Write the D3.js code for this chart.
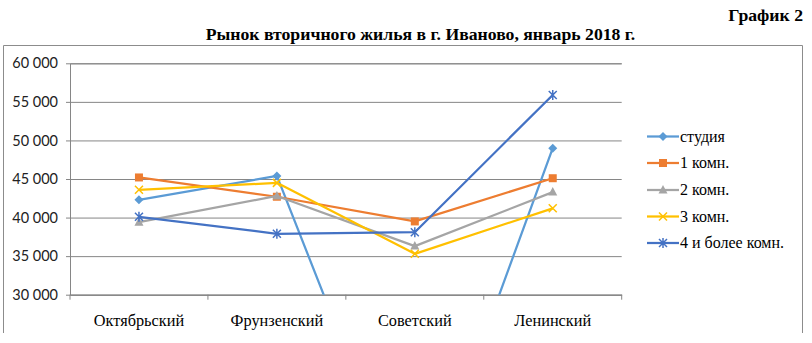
<!DOCTYPE html>
<html><head><meta charset="utf-8">
<script src="https://cdn.jsdelivr.net/npm/d3@7"></script>
<style>body{margin:0;background:#fff}svg{display:block}</style>
</head><body>
<svg id="c" width="812" height="343"></svg>
<script>
const categories = ["Октябрьский", "Фрунзенский", "Советский", "Ленинский"];
const seriesNames = ["студия", "1 комн.", "2 комн.", "3 комн.", "4 и более комн."];
const studio = [42300, 45400, 0, 49000];
const room1 = [45200, 42700, 39500, 45100];
const room2 = [39400, 42800, 36300, 43300];
const room3 = [43600, 44500, 35300, 41200];
const room4 = [40100, 37900, 38100, 55900];
const yTicks = [30000, 35000, 40000, 45000, 50000, 55000, 60000];
const colors = ["#5B9BD5", "#ED7D31", "#A5A5A5", "#FFC000", "#4472C4"];
const markers = ["diamond", "square", "triangle", "x", "star"];
const title = "Рынок вторичного жилья в г. Иваново, январь 2018 г.";
const label = "График 2";

const SERIF = "'Liberation Serif', 'Times New Roman', serif";
const svg = d3.select("#c");
const L = 70, R = 621.7, T = 63.3, B = 294.7;
const x = d3.scaleBand().domain(categories).range([L, R]).padding(0);
const y = d3.scaleLinear().domain([30000, 60000]).range([B, T]);

svg.append("path").attr("d", `M3.5,333 V45.5 H802.5 V333`).attr("fill", "none").attr("stroke", "#8c8c8c").attr("stroke-width", 1);

svg.append("text").style("font-family", SERIF).attr("x", 803).attr("y", 21).attr("text-anchor", "end")
  .attr("font-weight", "bold").attr("font-size", 17.7).text(label);
svg.append("text").style("font-family", SERIF).attr("x", 420.5).attr("y", 40).attr("text-anchor", "middle")
  .attr("font-weight", "bold").attr("font-size", 17.7).text(title);

const yAxis = d3.axisLeft(y).tickValues(yTicks).tickSize(-(R - L)).tickPadding(12)
  .tickFormat(d => d3.format(",")(d).replace(/,/g, " "));
const gy = svg.append("g").attr("transform", `translate(${L},0)`).call(yAxis);
gy.select(".domain").attr("stroke", "#868686");
gy.selectAll(".tick line").attr("stroke", "#868686").attr("x1", -4);
gy.selectAll(".tick text").style("font-family", "Lato, 'Open Sans', sans-serif").attr("font-size", 14.5).attr("fill", "#222");

const gx = svg.append("g").attr("transform", `translate(0,${B})`)
  .call(d3.axisBottom(x).tickSize(0).tickPadding(20));
gx.select(".domain").attr("stroke", "#868686");
gx.selectAll(".tick text").style("font-family", SERIF).attr("font-size", 16.3).attr("fill", "#000");
const bounds = categories.map(c => x(c)).concat([R]);
svg.append("g").selectAll("line").data(bounds).join("line")
  .attr("x1", d => d).attr("x2", d => d).attr("y1", B).attr("y2", B + 5).attr("stroke", "#868686");

svg.append("defs").append("clipPath").attr("id", "clip").append("rect")
  .attr("x", L).attr("y", T - 10).attr("width", R - L + 10).attr("height", B - T + 10);

const allSeries = [studio, room1, room2, room3, room4];
const cx = c => x(c) + x.bandwidth() / 2;
const line = d3.line().x((d, i) => cx(categories[i])).y(d => y(d));

function drawMarker(g, type, color, px, py) {
  if (type === "diamond") g.append("path").attr("d", `M${px},${py-4.5}L${px+4.5},${py}L${px},${py+4.5}L${px-4.5},${py}Z`).attr("fill", color);
  else if (type === "square") g.append("rect").attr("x", px-4).attr("y", py-4).attr("width", 8).attr("height", 8).attr("fill", color);
  else if (type === "triangle") g.append("path").attr("d", `M${px},${py-5}L${px+4.5},${py+3.5}L${px-4.5},${py+3.5}Z`).attr("fill", color);
  else if (type === "x") g.append("path").attr("d", `M${px-4},${py-4}L${px+4},${py+4}M${px-4},${py+4}L${px+4},${py-4}`).attr("stroke", color).attr("stroke-width", 1.5);
  else if (type === "star") g.append("path").attr("d", `M${px-4},${py-4}L${px+4},${py+4}M${px-4},${py+4}L${px+4},${py-4}M${px},${py-5}L${px},${py+5}`).attr("stroke", color).attr("stroke-width", 1.5);
}

const plot = svg.append("g").attr("clip-path", "url(#clip)");
allSeries.forEach((s, k) => {
  plot.append("path").datum(s).attr("d", line).attr("fill", "none")
    .attr("stroke", colors[k]).attr("stroke-width", 2.25).attr("stroke-linejoin", "round");
  s.forEach((v, i) => drawMarker(plot, markers[k], colors[k], cx(categories[i]), y(v)));
});

const legY = [136.5, 163, 190, 216.5, 243];
seriesNames.forEach((n, k) => {
  const g = svg.append("g");
  g.append("line").attr("x1", 647).attr("x2", 679).attr("y1", legY[k]).attr("y2", legY[k])
    .attr("stroke", colors[k]).attr("stroke-width", 2.25);
  drawMarker(g, markers[k], colors[k], 663, legY[k]);
  g.append("text").style("font-family", SERIF).attr("x", 680).attr("y", legY[k] + 5)
    .attr("font-size", 16).attr("fill", "#000").text(n);
});
</script>
</body></html>
